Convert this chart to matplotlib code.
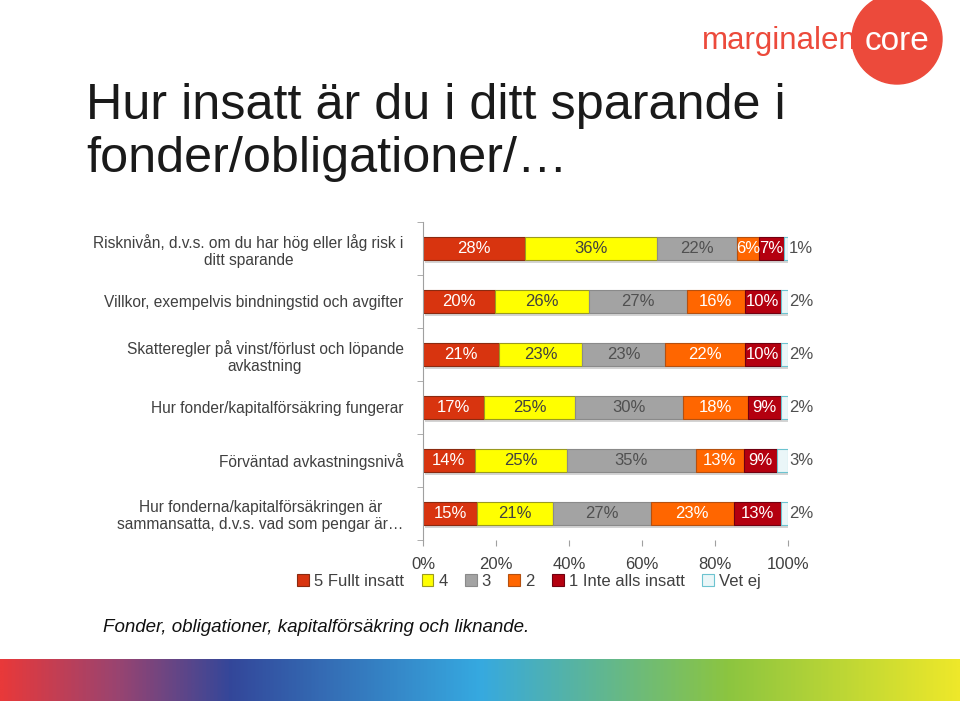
import matplotlib.pyplot as plt
import numpy as np
from matplotlib.patches import Circle
from matplotlib.colors import LinearSegmentedColormap

plt.rcParams['font.family'] = ['Liberation Sans', 'DejaVu Sans']

categories = [
    'Risknivån, d.v.s. om du har hög eller låg risk i\nditt sparande',
    'Villkor, exempelvis bindningstid och avgifter',
    'Skatteregler på vinst/förlust och löpande\navkastning',
    'Hur fonder/kapitalförsäkring fungerar',
    'Förväntad avkastningsnivå',
    'Hur fonderna/kapitalförsäkringen är\nsammansatta, d.v.s. vad som pengar är…',
]
series = ['5 Fullt insatt', '4', '3', '2', '1 Inte alls insatt', 'Vet ej']
values = np.array([
    [28, 36, 22, 6, 7, 1],
    [20, 26, 27, 16, 10, 2],
    [21, 23, 23, 22, 10, 2],
    [17, 25, 30, 18, 9, 2],
    [14, 25, 35, 13, 9, 3],
    [15, 21, 27, 23, 13, 2],
])
ticks = [0, 20, 40, 60, 80, 100]

colors = ['#d8340f', '#ffff00', '#a3a3a3', '#ff6600', '#b4000f', '#eaf6f8']
edges = ['#8a2a10', '#9a9a20', '#8a8a8a', '#b45010', '#700010', '#6cc3d0']
label_colors = ['white', '#404040', '#505050', 'white', 'white', '#505050']

fig = plt.figure(figsize=(9.6, 7.01), dpi=100)

# rubrik
fig.text(86 / 960, 1 - 83 / 701, 'Hur insatt är du i ditt sparande i\nfonder/obligationer/…',
         fontsize=36.3, color='#1a1a1a', va='top', ha='left', linespacing=1.2)

# diagram
ax = fig.add_axes([423 / 960, 1 - 540 / 701, 365 / 960, 318 / 701])
shares = values / values.sum(axis=1, keepdims=True) * 100
y = np.arange(len(categories))
h = 0.42
# skugga
ax.barh(y + 0.07, shares.sum(axis=1), left=0.6, height=h, color='#b8b8b8', alpha=0.6, zorder=1)
left = np.zeros(len(categories))
for j, name in enumerate(series):
    w = shares[:, j]
    ax.barh(y, w, left=left, height=h, color=colors[j], edgecolor=edges[j],
            linewidth=0.8, label=name, zorder=2)
    for i in range(len(categories)):
        txt = f'{values[i, j]}%'
        if j == len(series) - 1:
            ax.text(left[i] + w[i] + 0.3, y[i], txt, ha='left', va='center',
                    fontsize=12, color=label_colors[j], zorder=3)
        else:
            ax.text(left[i] + w[i] / 2, y[i], txt, ha='center', va='center',
                    fontsize=12, color=label_colors[j], zorder=3)
    left += w

ax.set_xlim(0, 100)
ax.set_ylim(len(categories) - 0.5, -0.5)
ax.set_xticks(ticks)
ax.set_xticklabels([f'{t}%' for t in ticks], fontsize=12, color='#404040')
ax.set_yticks(y)
ax.set_yticklabels(categories, fontsize=11.2, color='#404040', multialignment='center')
ax.set_yticks(np.arange(len(categories) + 1) - 0.5, minor=True)
ax.tick_params(axis='y', which='major', length=0, pad=14)
ax.tick_params(axis='y', which='minor', length=4, color='#a0a0a0', direction='out')
ax.tick_params(axis='x', length=4, color='#a0a0a0', pad=8)
for s in ['top', 'right', 'bottom']:
    ax.spines[s].set_visible(False)
ax.spines['left'].set_color('#a0a0a0')

leg = ax.legend(loc='upper center', bbox_to_anchor=(0.29, -0.06), ncol=6, frameon=False,
                fontsize=12, handlelength=0.7, handleheight=0.7, handletextpad=0.3,
                columnspacing=1.05, labelcolor='#404040')

# fotnot
fig.text(103 / 960, 1 - 628 / 701, 'Fonder, obligationer, kapitalförsäkring och liknande.',
         fontsize=13.5, style='italic', va='center', ha='left', color='#111111')

# färgband nederst
gax = fig.add_axes([0, 0, 1, 42 / 701])
cmap = LinearSegmentedColormap.from_list('band', [
    (0.0, '#e8393a'), (0.12, '#9a4470'), (0.24, '#33479a'),
    (0.5, '#36a9e0'), (0.76, '#8cc540'), (1.0, '#eee82a')])
gax.imshow(np.linspace(0, 1, 512)[None, :], aspect='auto', cmap=cmap)
gax.axis('off')

# logga
lax = fig.add_axes([0, 0, 1, 1], zorder=-1)
lax.set_xlim(0, 960)
lax.set_ylim(701, 0)
lax.axis('off')
lax.add_patch(Circle((897, 39), 45, color='#ec4a3b'))
lax.text(897, 41, 'core', color='white', fontsize=24, ha='center', va='center')
lax.text(779, 41, 'marginalen', color='#ec4a3b', fontsize=22.5, ha='center', va='center')

fig.savefig('out.png', dpi=100)
